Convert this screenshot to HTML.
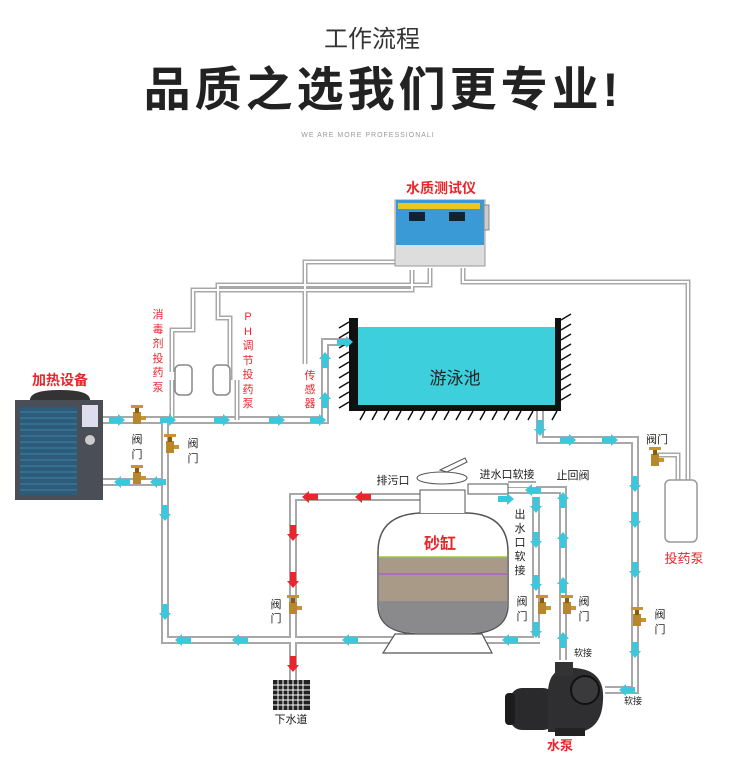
<!DOCTYPE html><html><head><meta charset="utf-8"><style>body{margin:0;background:#fff}svg{display:block}text{font-family:"Liberation Sans","Noto Sans CJK SC",sans-serif}</style></head><body>
<svg width="750" height="760" viewBox="0 0 750 760" xmlns="http://www.w3.org/2000/svg">
<defs>
<g id="ar"><path d="M-8,-3 h9 v-3 l7,6 -7,6 v-3 h-9z" fill="#3cc8dc"/></g>
<g id="rr"><path d="M-8,-3 h9 v-3 l7,6 -7,6 v-3 h-9z" fill="#e8262b"/></g>
<g id="vl"><rect x="-4" y="-6" width="8" height="12" fill="#b8862b"/><rect x="-2" y="-11" width="4" height="6" fill="#8a5c10"/><rect x="-6" y="-13" width="12" height="3" fill="#c89430"/><rect x="4" y="-2" width="5" height="4" fill="#c89430"/></g>
</defs>
<text x="372" y="47" font-size="24" text-anchor="middle" fill="#333">工作流程</text>
<text x="383" y="106" font-size="47" text-anchor="middle" fill="#222" font-weight="bold" letter-spacing="4">品质之选我们更专业!</text>
<text x="368" y="137" font-size="7" text-anchor="middle" fill="#999" letter-spacing="1">WE ARE MORE PROFESSIONALI</text>

<g fill="none" stroke-linejoin="miter">
<g stroke="#a8a8a8" stroke-width="8">
<path d="M100,420 H325 V342 H352"/>
<path d="M165,420 V640 H540"/>
<path d="M100,482 H165"/>
<path d="M540,410 V440 H635 V690 H605"/>
<path d="M536,497 V640"/>
<path d="M563,660 V490 H500"/>
<path d="M420,497 H293 V680"/>
<path d="M508,485 H536"/>
</g>
<g stroke="#fff" stroke-width="4">
<path d="M100,420 H325 V342 H352"/>
<path d="M165,420 V640 H540"/>
<path d="M100,482 H165"/>
<path d="M540,410 V440 H635 V690 H605"/>
<path d="M536,497 V640"/>
<path d="M563,660 V490 H500"/>
<path d="M420,497 H293 V680"/>
<path d="M508,485 H536"/>
</g>
<g stroke="#a8a8a8" stroke-width="5">
<path d="M172,372 V330 H193 V290 H412 V270"/>
<path d="M230,380 V318 H218 V285 H430 V268"/>
<path d="M305,364 V262 H410"/>
<path d="M237,380 V420"/><path d="M172,380 V420"/>
<path d="M463,268 V282 H688 V480"/>
<path d="M655,455 H678 V480"/>
</g>
<g stroke="#fff" stroke-width="2">
<path d="M172,372 V330 H193 V290 H412 V270"/>
<path d="M230,380 V318 H218 V285 H430 V268"/>
<path d="M305,364 V262 H410"/>
<path d="M237,380 V420"/><path d="M172,380 V420"/>
<path d="M463,268 V282 H688 V480"/>
<path d="M655,455 H678 V480"/>
</g>
</g>
<rect x="175" y="365" width="17" height="30" rx="5" fill="#fff" stroke="#888" stroke-width="1.5"/>
<rect x="213" y="365" width="17" height="30" rx="5" fill="#fff" stroke="#888" stroke-width="1.5"/>
<rect x="665" y="480" width="32" height="62" rx="5" fill="#fff" stroke="#999" stroke-width="1.5"/>
<rect x="395" y="200" width="90" height="66" fill="#ddd" stroke="#999"/>
<rect x="396" y="200" width="88" height="45" fill="#3a9ad6"/>
<rect x="398" y="203" width="82" height="6" fill="#e8c820"/>
<rect x="409" y="212" width="16" height="9" fill="#123"/><rect x="449" y="212" width="16" height="9" fill="#123"/>
<rect x="484" y="205" width="5" height="25" fill="#ccc" stroke="#888"/>
<text x="441" y="193" font-size="14" text-anchor="middle" fill="#e8262b" font-weight="bold">水质测试仪</text>
<rect x="358" y="327" width="197" height="78" fill="#3ecfdd"/>
<rect x="349" y="318" width="9" height="92" fill="#111"/>
<rect x="555" y="318" width="6" height="92" fill="#111"/>
<rect x="349" y="405" width="212" height="6" fill="#111"/>
<g stroke="#111" stroke-width="1.5">
<path d="M349,322 l-10,6 M349,332 l-10,6 M349,342 l-10,6 M349,352 l-10,6 M349,362 l-10,6 M349,372 l-10,6 M349,382 l-10,6 M349,392 l-10,6 M349,402 l-10,6"/>
<path d="M561,320 l10,-6 M561,330 l10,-6 M561,340 l10,-6 M561,350 l10,-6 M561,360 l10,-6 M561,370 l10,-6 M561,380 l10,-6 M561,390 l10,-6 M561,400 l10,-6"/>
<path d="M365,411 l-5,9 M377,411 l-5,9 M389,411 l-5,9 M401,411 l-5,9 M413,411 l-5,9 M425,411 l-5,9 M437,411 l-5,9 M449,411 l-5,9 M461,411 l-5,9 M473,411 l-5,9 M485,411 l-5,9 M497,411 l-5,9 M509,411 l-5,9 M521,411 l-5,9 M533,411 l-5,9 M557,411 l-5,9"/>
</g>
<text x="455" y="384" font-size="17" text-anchor="middle" fill="#222">游泳池</text>
<path d="M30,400 Q30,390 60,390 Q90,390 90,400Z" fill="#333"/>
<rect x="15" y="400" width="88" height="100" fill="#4a4e56"/>
<rect x="20" y="407" width="57" height="88" fill="#2c5c7a"/>
<g stroke="#3f7fa0" stroke-width="1"><path d="M20,412 h57 M20,418 h57 M20,424 h57 M20,430 h57 M20,436 h57 M20,442 h57 M20,448 h57 M20,454 h57 M20,460 h57 M20,466 h57 M20,472 h57 M20,478 h57 M20,484 h57 M20,490 h57"/></g>
<rect x="82" y="405" width="16" height="22" fill="#dde"/>
<circle cx="90" cy="440" r="5" fill="#ccc"/>
<text x="60" y="385" font-size="14" text-anchor="middle" fill="#e8262b" font-weight="bold">加热设备</text>
<path d="M378,552 Q378,515 420,513 H468 Q508,515 508,552 V605 Q508,632 470,634 H416 Q378,632 378,605Z" fill="#fff" stroke="#555" stroke-width="1.5"/>
<rect x="379" y="557" width="128" height="44" fill="#a89a86"/>
<line x1="379" y1="557" x2="507" y2="557" stroke="#9c3" stroke-width="1.5"/>
<line x1="379" y1="574" x2="507" y2="574" stroke="#a5d" stroke-width="1.2"/>
<path d="M379,601 H507 V606 Q507,632 470,633 H416 Q379,632 379,606Z" fill="#8a8a8c"/>
<path d="M395,634 L383,653 H492 L482,634Z" fill="#fff" stroke="#555" stroke-width="1.2"/>
<path d="M420,513 V490 H465 V513" fill="#fff" stroke="#555"/>
<ellipse cx="442" cy="478" rx="25" ry="6" fill="#fff" stroke="#555"/>
<path d="M440,470 l25,-12 2,4 -20,10z" fill="#fff" stroke="#555"/>
<rect x="468" y="484" width="40" height="10" fill="#fff" stroke="#555"/>
<text x="440" y="549" font-size="16" text-anchor="middle" fill="#e8262b" font-weight="bold">砂缸</text>
<rect x="273" y="680" width="37" height="30" fill="#222"/>
<g stroke="#fff" stroke-width="1"><path d="M278,680v30M283,680v30M288,680v30M293,680v30M298,680v30M303,680v30M273,685h37M273,690h37M273,695h37M273,700h37M273,705h37"/></g>
<text x="291" y="723" font-size="11" text-anchor="middle" fill="#222">下水道</text>
<rect x="510" y="688" width="45" height="42" rx="12" fill="#2a2a2c"/>
<rect x="505" y="693" width="10" height="32" rx="4" fill="#1c1c1e"/>
<path d="M548,690 Q550,665 575,668 Q605,670 603,700 Q602,728 580,732 H548Z" fill="#2f2f31"/>
<circle cx="585" cy="690" r="14" fill="#3a3a3c" stroke="#111" stroke-width="2"/>
<rect x="555" y="662" width="18" height="14" fill="#333"/>
<rect x="555" y="728" width="30" height="8" fill="#222"/>
<text x="560" y="750" font-size="13" text-anchor="middle" fill="#e8262b" font-weight="bold">水泵</text>
<use href="#ar" x="117" y="420"/><use href="#ar" x="168" y="420"/><use href="#ar" x="222" y="420"/><use href="#ar" x="277" y="420"/><use href="#ar" x="318" y="420"/>
<use href="#ar" transform="translate(325,400) rotate(-90)"/><use href="#ar" transform="translate(325,360) rotate(-90)"/><use href="#ar" x="345" y="342"/>
<use href="#ar" transform="translate(122,482) rotate(180)"/><use href="#ar" transform="translate(158,482) rotate(180)"/>
<use href="#ar" transform="translate(165,513) rotate(90)"/><use href="#ar" transform="translate(165,612) rotate(90)"/>
<use href="#ar" transform="translate(183,640) rotate(180)"/><use href="#ar" transform="translate(240,640) rotate(180)"/><use href="#ar" transform="translate(350,640) rotate(180)"/><use href="#ar" transform="translate(510,640) rotate(180)"/>
<use href="#ar" transform="translate(540,428) rotate(90)"/><use href="#ar" x="568" y="440"/><use href="#ar" x="610" y="440"/>
<use href="#ar" transform="translate(635,484) rotate(90)"/><use href="#ar" transform="translate(635,520) rotate(90)"/><use href="#ar" transform="translate(635,570) rotate(90)"/><use href="#ar" transform="translate(635,650) rotate(90)"/>
<use href="#ar" transform="translate(627,690) rotate(180)"/>
<use href="#ar" transform="translate(536,505) rotate(90)"/><use href="#ar" transform="translate(536,540) rotate(90)"/><use href="#ar" transform="translate(536,583) rotate(90)"/><use href="#ar" transform="translate(536,630) rotate(90)"/>
<use href="#ar" transform="translate(563,640) rotate(-90)"/><use href="#ar" transform="translate(563,585) rotate(-90)"/><use href="#ar" transform="translate(563,540) rotate(-90)"/><use href="#ar" transform="translate(563,500) rotate(-90)"/>
<use href="#ar" transform="translate(533,490) rotate(180)"/><use href="#ar" x="506" y="499"/>
<use href="#rr" transform="translate(363,497) rotate(180)"/><use href="#rr" transform="translate(310,497) rotate(180)"/>
<use href="#rr" transform="translate(293,533) rotate(90)"/><use href="#rr" transform="translate(293,580) rotate(90)"/><use href="#rr" transform="translate(293,664) rotate(90)"/>
<use href="#vl" x="137" y="418"/><use href="#vl" x="137" y="478"/><use href="#vl" x="170" y="447"/><use href="#vl" x="293" y="608"/><use href="#vl" x="542" y="608"/><use href="#vl" x="567" y="608"/><use href="#vl" x="655" y="460"/><use href="#vl" x="637" y="620"/>
<g font-size="11" fill="#222" text-anchor="middle">
<text x="137" y="443">阀</text><text x="137" y="458">门</text>
<text x="193" y="447">阀</text><text x="193" y="462">门</text>
<text x="276" y="608">阀</text><text x="276" y="622">门</text>
<text x="522" y="605">阀</text><text x="522" y="620">门</text>
<text x="584" y="605">阀</text><text x="584" y="620">门</text>
<text x="660" y="618">阀</text><text x="660" y="633">门</text>
<text x="657" y="443">阀门</text>
<text x="393" y="484">排污口</text>
<text x="507" y="478">进水口软接</text>
<text x="573" y="479">止回阀</text>
<text x="520" y="518">出</text><text x="520" y="532">水</text><text x="520" y="546">口</text><text x="520" y="560">软</text><text x="520" y="574">接</text>
<text x="583" y="656" font-size="9">软接</text><text x="633" y="704" font-size="9">软接</text>
</g>
<g font-size="11" fill="#e8262b" text-anchor="middle">
<text x="158" y="318">消</text><text x="158" y="333">毒</text><text x="158" y="347">剂</text><text x="158" y="362">投</text><text x="158" y="376">药</text><text x="158" y="391">泵</text>
<text x="248" y="320">P</text><text x="248" y="335">H</text><text x="248" y="349">调</text><text x="248" y="364">节</text><text x="248" y="378">投</text><text x="248" y="393">药</text><text x="248" y="407">泵</text>
<text x="310" y="379">传</text><text x="310" y="393">感</text><text x="310" y="407">器</text>
<text x="684" y="563" font-size="13">投药泵</text>
</g>
</svg>
</body></html>
